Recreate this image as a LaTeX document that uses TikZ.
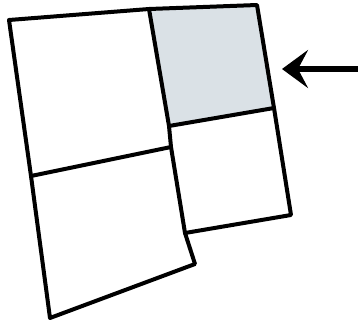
\documentclass[tikz,border=0pt]{standalone}
\usepackage{xcolor}
\usetikzlibrary{arrows.meta}
\definecolor{roomgrey}{HTML}{DAE1E6}
\tikzset{
    wall/.style={line width=4pt,line cap=round,line join=round},
    pointer/.style={line width=5.6pt,-{Stealth[length=26pt,width=38pt,inset=10pt]}},
}

\begin{document}
\begin{tikzpicture}[x=1pt,y=-1pt]
    \useasboundingbox (0,0) rectangle (360,322);
    \coordinate (tl) at (9,20);
    \coordinate (tm) at (149,9);
    \coordinate (tr) at (257,5);
    \coordinate (mr) at (274,108);
    \coordinate (mm) at (169,126);
    \coordinate (ml) at (31,176);
    \coordinate (mc) at (171,147);
    \coordinate (br) at (291,215);
    \coordinate (bm) at (185,233);
    \coordinate (bc) at (195,264);
    \coordinate (bl) at (50,318);
    \coordinate (tip) at (282,69);
    \coordinate (tail) at (358,69);
    \fill[roomgrey] (tm) -- (tr) -- (mr) -- (mm) -- cycle;
    \draw[wall] (tl) -- (tm) -- (tr) -- (mr) -- (br) -- (bm) -- (bc) -- (bl) -- (ml) -- cycle;
    \draw[wall] (tm) -- (mm) -- (mc) -- (bm);
    \draw[wall] (ml) -- (mc);
    \draw[wall] (mm) -- (mr);
    \draw[pointer] (tail) -- (tip);
\end{tikzpicture}
\end{document}
